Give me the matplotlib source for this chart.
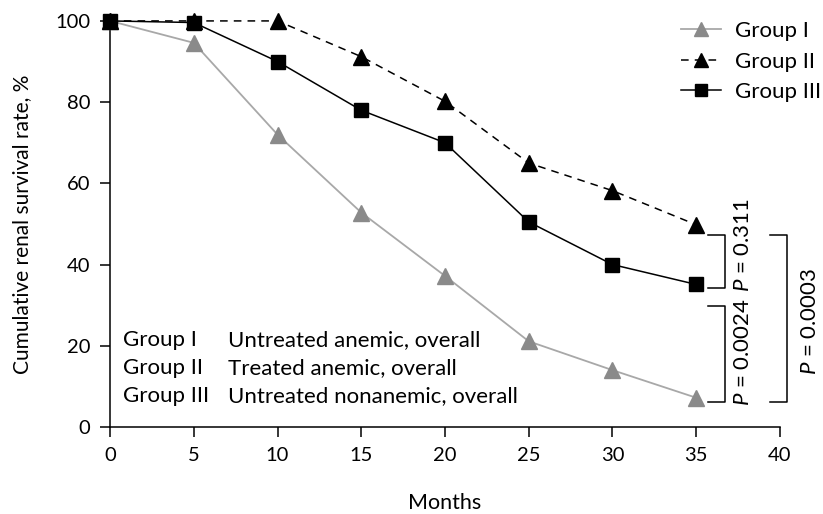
import matplotlib.pyplot as plt

plt.rcParams['font.family'] = ['Lato', 'DejaVu Sans']
plt.rcParams['mathtext.fontset'] = 'custom'
plt.rcParams['mathtext.it'] = 'Lato:italic'
plt.rcParams['mathtext.rm'] = 'Lato'

months = [0, 5, 10, 15, 20, 25, 30, 35]
group1 = [100, 94.6, 72, 52.8, 37.2, 21.1, 14, 7.2]
group2 = [100, 100, 100, 91.2, 80.2, 65, 58.2, 49.8]
group3 = [100, 99.6, 90, 78, 70, 50.5, 40, 35.1]

labels = ['Group I', 'Group II', 'Group III']
descr = ['Untreated anemic, overall', 'Treated anemic, overall',
         'Untreated nonanemic, overall']
pvals = ['0.311', '0.0024', '0.0003']

fs = 16

fig = plt.figure(figsize=(8.23, 5.14), dpi=100)
ax = fig.add_axes([0.1337, 0.1693, 0.814, 0.79])

ax.plot(months, group1, color='#a8a8a8', lw=1.3, marker='^', ms=12,
        mfc='#8a8a8a', mec='#8a8a8a', label=labels[0], clip_on=False, zorder=3)
ax.plot(months, group2, color='black', lw=1.1, ls=(0, (5, 4)), marker='^', ms=12,
        mfc='black', mec='black', label=labels[1], clip_on=False, zorder=3)
ax.plot(months, group3, color='black', lw=1.1, marker='s', ms=10,
        mfc='black', mec='black', label=labels[2], clip_on=False, zorder=4)

ax.set_xlim(0, 40)
ax.set_ylim(0, 100)
ax.set_xticks(range(0, 41, 5))
ax.set_yticks(range(0, 101, 20))
ax.spines['top'].set_visible(False)
ax.spines['right'].set_visible(False)
ax.tick_params(direction='out', length=7.2, width=1.1, labelsize=14.5, pad=7)
ax.spines['left'].set_linewidth(1.1)
ax.spines['bottom'].set_linewidth(1.1)

ax.set_xlabel('Months', fontsize=15.5)
ax.xaxis.set_label_coords(0.5, -0.163)
ax.set_ylabel('Cumulative renal survival rate, %', fontsize=15)
ax.yaxis.set_label_coords(-0.116, 0.5)

leg = ax.legend(loc='upper left', bbox_to_anchor=(0.853, 1.0), frameon=False,
                fontsize=fs, handlelength=1.8, handletextpad=0.6, labelspacing=0.48,
                markerscale=0.8, borderaxespad=0, borderpad=0)

# legend of group meaning
for i in range(3):
    ax.text(0.78, 21.4 - i * 6.9, labels[i], fontsize=fs, va='center')
    ax.text(7.05, 21.4 - i * 6.9, descr[i], fontsize=fs, va='center')

# brackets with P values
bkw = dict(color='black', lw=1.1, clip_on=False)
ax.plot([35.7, 36.7, 36.7, 35.7], [47.3, 47.3, 34.3, 34.3], **bkw)
ax.plot([35.7, 36.7, 36.7, 35.7], [29.8, 29.8, 6.2, 6.2], **bkw)
ax.plot([39.4, 40.4, 40.4, 39.4], [47.3, 47.3, 6.2, 6.2], **bkw)
ax.text(37.8, 44.8, '$P$ = ' + pvals[0], rotation=90, fontsize=fs, ha='center',
        va='center', clip_on=False)
ax.text(37.8, 18.5, '$P$ = ' + pvals[1], rotation=90, fontsize=fs, ha='center',
        va='center', clip_on=False)
ax.text(41.8, 26.0, '$P$ = ' + pvals[2], rotation=90, fontsize=fs, ha='center',
        va='center', clip_on=False)

fig.savefig('out.png', dpi=100)
